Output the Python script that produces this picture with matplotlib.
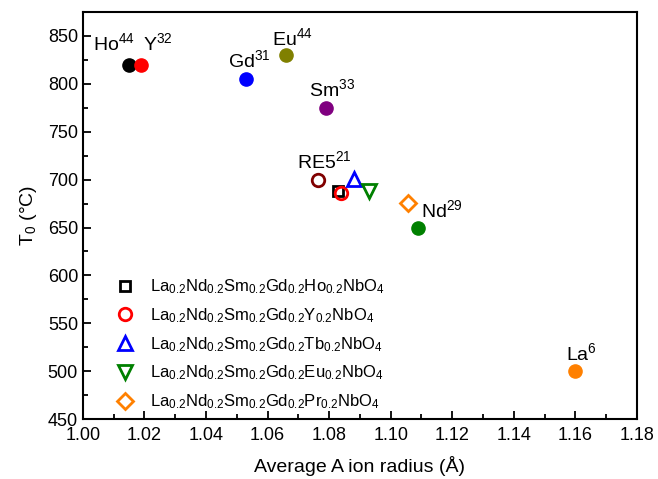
import matplotlib
matplotlib.use('Agg')
import matplotlib.pyplot as plt
from matplotlib.ticker import MultipleLocator

plt.rcParams['font.family'] = ['Liberation Sans', 'DejaVu Sans']
plt.rcParams['mathtext.fontset'] = 'custom'
plt.rcParams['mathtext.rm'] = 'Liberation Sans'
plt.rcParams['mathtext.it'] = 'Liberation Sans:italic'
plt.rcParams['mathtext.bf'] = 'Liberation Sans:bold'

# single-component rare earth niobates (filled)
single_names = ['Ho', 'Y', 'Gd', 'Eu', 'Sm', 'Nd', 'La']
single_refs = ['44', '32', '31', '44', '33', '29', '6']
single_r = [1.015, 1.019, 1.053, 1.066, 1.079, 1.109, 1.160]
single_T = [820, 820, 805, 830, 775, 650, 500]
single_colors = ['black', '#ff0000', '#0000ff', '#808000', '#800080', '#008000', '#ff8000']

# RE5 from ref 21
re5_r = 1.0765
re5_T = 700

# this work (open)
hea_elem = ['Ho', 'Y', 'Tb', 'Eu', 'Pr']
hea_r = [1.083, 1.084, 1.088, 1.093, 1.1055]
hea_T = [688, 686, 701, 688, 676]
hea_markers = ['s', 'o', '^', 'v', 'D']
hea_colors = ['black', '#ff0000', '#0000ff', '#008000', '#ff8000']
hea_sizes = [7, 9, 10, 10, 8]

fig = plt.figure(figsize=(6.58, 4.79), dpi=100)
ax = fig.add_axes([0.126, 0.125, 0.842, 0.850])

for r, t, c in zip(single_r, single_T, single_colors):
    ax.plot(r, t, 'o', color=c, markersize=9.5, zorder=3)

ax.plot(re5_r, re5_T, 'o', mfc='none', mec='#800000', mew=2, markersize=9, zorder=3)

for i in range(len(hea_elem)):
    lab = (r'La$_{0.2}$Nd$_{0.2}$Sm$_{0.2}$Gd$_{0.2}$' + hea_elem[i]
           + r'$_{0.2}$NbO$_4$')
    ax.plot(hea_r[i], hea_T[i], hea_markers[i], mfc='none', mec=hea_colors[i],
            mew=2, markersize=hea_sizes[i], label=lab, zorder=4)

# point labels (text position in data units)
lab_pos = {'Ho': (1.0102, 842), 'Y': (1.0245, 842), 'Gd': (1.054, 825),
           'Eu': (1.068, 848), 'Sm': (1.081, 794), 'Nd': (1.1165, 668),
           'La': (1.162, 519)}
for n, ref in zip(single_names, single_refs):
    x, y = lab_pos[n]
    ax.text(x, y, n + r'$^{' + ref + '}$', fontsize=14, ha='center', va='center')
ax.text(1.0785, 719, r'RE5$^{21}$', fontsize=14, ha='center', va='center')

ax.set_xlim(1.00, 1.18)
ax.set_ylim(450, 875)
ax.xaxis.set_major_locator(MultipleLocator(0.02))
ax.xaxis.set_minor_locator(MultipleLocator(0.01))
ax.yaxis.set_major_locator(MultipleLocator(50))
ax.yaxis.set_minor_locator(MultipleLocator(25))
ax.tick_params(which='both', direction='in', top=False, right=False,
               labelsize=13, width=1.3)
ax.tick_params(which='major', length=6)
ax.tick_params(which='minor', length=3.5)
ax.tick_params(axis='x', pad=6)
ax.xaxis.set_major_formatter(matplotlib.ticker.FormatStrFormatter('%.2f'))
for s in ax.spines.values():
    s.set_linewidth(1.5)

ax.set_xlabel('Average A ion radius (Å)', fontsize=14, labelpad=8)
ax.set_ylabel(r'T$_0$ (°C)', fontsize=14, labelpad=6)

ax.legend(loc='upper left', bbox_to_anchor=(0.045, 0.364), frameon=False,
          fontsize=12, handletextpad=0.9, labelspacing=0.6,
          borderaxespad=0, handlelength=1.2)

fig.savefig('out.png', dpi=100)
